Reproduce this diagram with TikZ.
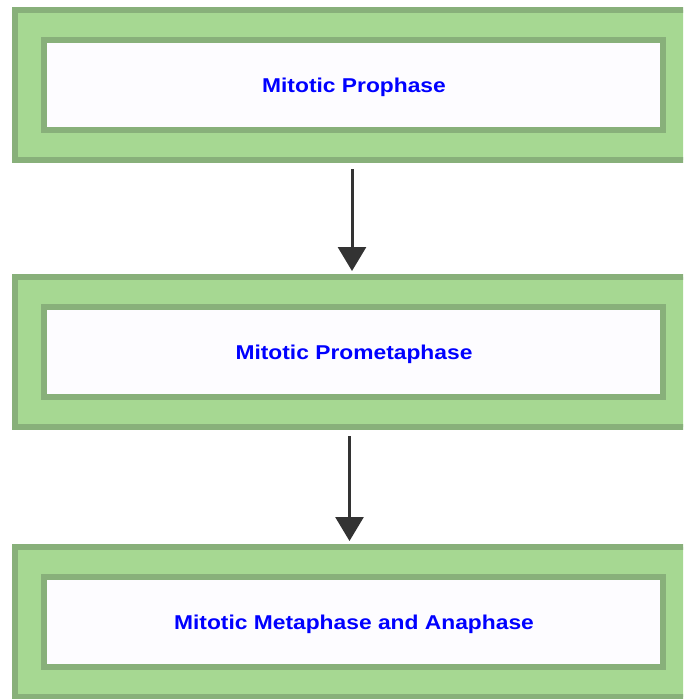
\documentclass[tikz,border=0pt]{standalone}
\usepackage{fontspec}
\newfontfamily\lblfont[FakeStretch=1.14]{Liberation Sans}
\usetikzlibrary{arrows.meta}
\definecolor{outerfill}{HTML}{A6D892}
\definecolor{greenline}{HTML}{88B07A}
\definecolor{innerfill}{HTML}{FDFCFF}
\definecolor{arrowcol}{HTML}{333333}
\definecolor{textblue}{HTML}{0000FF}
\tikzset{
  outerbox/.style={draw=greenline, fill=outerfill, line width=6pt, inner sep=0pt,
    minimum width=685pt, minimum height=150pt},
  innerbox/.style={draw=greenline, fill=innerfill, line width=6pt, inner sep=0pt,
    minimum width=619pt, minimum height=90pt},
  lbl/.style={font=\lblfont\bfseries\fontsize{20}{24}\selectfont, text=textblue, inner sep=0pt, anchor=base},
  flow/.style={draw=arrowcol, line width=3pt, -{Triangle[width=28pt,length=24pt]}}
}
\begin{document}
\begin{tikzpicture}[x=1pt,y=-1pt]
\useasboundingbox (0,0) rectangle (683,699);
\clip (0,0) rectangle (683,699);
\node[outerbox] (o1) at (357.5,85) {};
\node[innerbox] (i1) at (353.5,85) {};
\node[lbl] (t1) at (354,92) {Mitotic Prophase};
\node[outerbox] (o2) at (357.5,352) {};
\node[innerbox] (i2) at (353.5,352) {};
\node[lbl] (t2) at (354,359) {Mitotic Prometaphase};
\node[outerbox] (o3) at (357.5,622) {};
\node[innerbox] (i3) at (353.5,622) {};
\node[lbl] (t3) at (354,629) {Mitotic Metaphase and Anaphase};
\draw[flow, shorten <=6pt, shorten >=3pt] ([xshift=-5.5pt]o1.south) -- ([xshift=-5.5pt]o2.north);
\draw[flow, shorten <=6pt, shorten >=3pt] ([xshift=-8pt]o2.south) -- ([xshift=-8pt]o3.north);
\end{tikzpicture}
\end{document}
